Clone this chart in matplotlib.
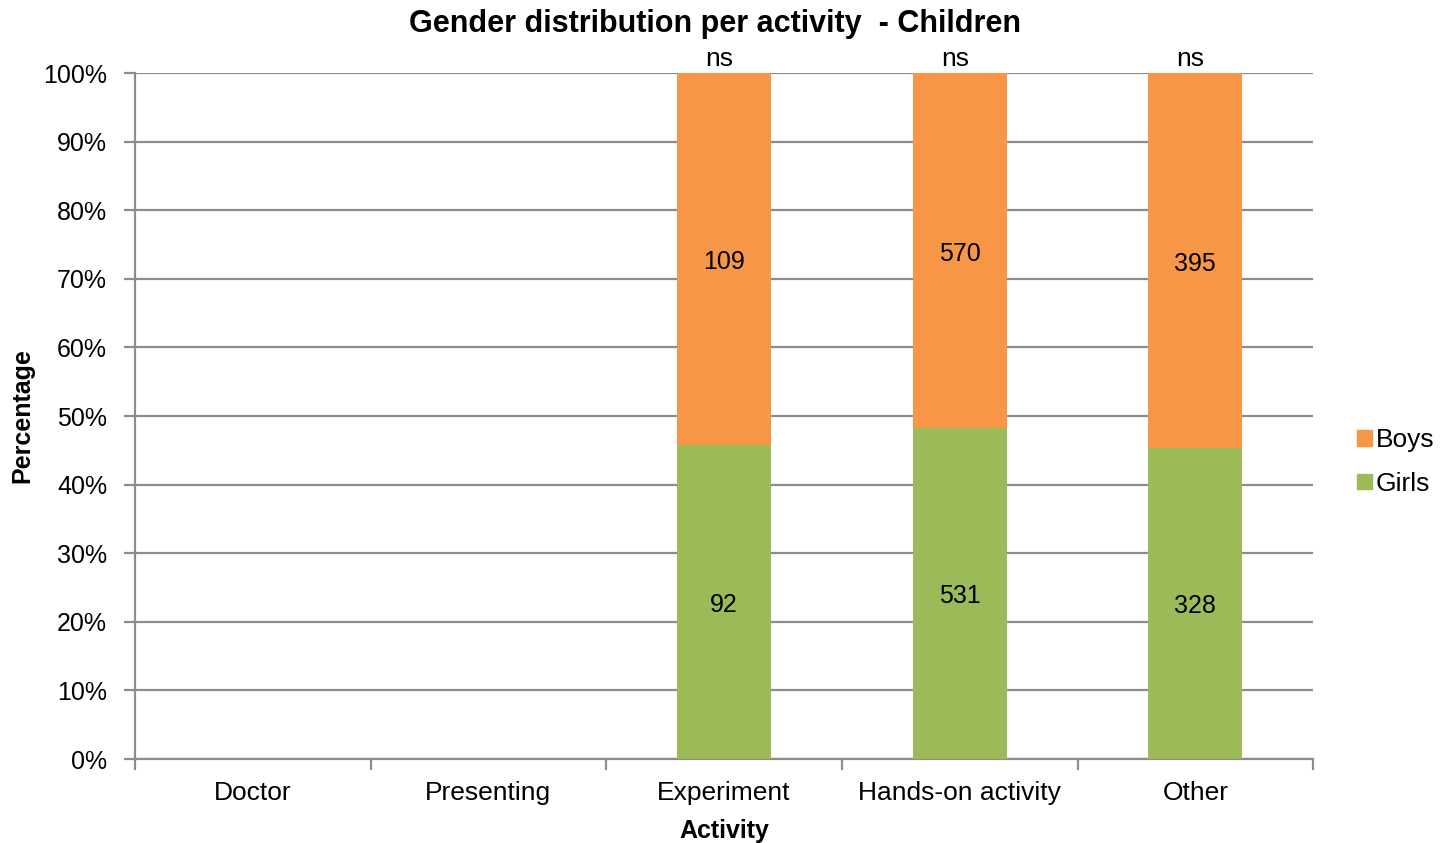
import numpy as np
import matplotlib.pyplot as plt
from matplotlib.patches import Patch
from matplotlib.ticker import FuncFormatter, FixedLocator

# data: counts per activity (children)
activities = ["Doctor", "Presenting", "Experiment", "Hands-on activity", "Other"]
girls = [0, 0, 92, 531, 328]
boys = [0, 0, 109, 570, 395]
signif = ["", "", "ns", "ns", "ns"]

girl_col = "#9BBB59"
boy_col = "#F79646"
grid_col = "#8C8C8C"

plt.rcParams["font.family"] = ["Liberation Sans", "DejaVu Sans"]

girls_arr = np.array(girls, dtype=float)
boys_arr = np.array(boys, dtype=float)
total = girls_arr + boys_arr
safe = np.where(total > 0, total, 1)
girls_pct = np.where(total > 0, girls_arr / safe * 100, 0)
boys_pct = np.where(total > 0, boys_arr / safe * 100, 0)

fig = plt.figure(figsize=(14.51, 8.43), dpi=100)
ax = fig.add_axes([0.093, 0.0996, 0.812, 0.8138])

x = np.arange(len(activities))
w = 0.4
ax.bar(x, girls_pct, width=w, color=girl_col, zorder=3)
ax.bar(x, boys_pct, width=w, bottom=girls_pct, color=boy_col, zorder=3)

for i in range(len(activities)):
    if total[i] == 0:
        continue
    ax.text(x[i], girls_pct[i] / 2 - 0.4, str(girls[i]), ha="center", va="center",
            fontsize=18, zorder=4)
    ax.text(x[i], girls_pct[i] + boys_pct[i] / 2 - 0.5, str(boys[i]), ha="center",
            va="center", fontsize=18, zorder=4)
    ax.text(x[i] - 0.02, 100.3, signif[i], ha="center", va="bottom", fontsize=19)

ax.set_xlim(-0.5, len(activities) - 0.5)
ax.set_ylim(0, 100)
ax.set_yticks(np.arange(0, 101, 10))
ax.yaxis.set_major_formatter(FuncFormatter(lambda v, p: f"{int(v)}%"))
ax.yaxis.grid(True, color=grid_col, linewidth=1.6, zorder=0)

# category labels centered, tick marks between categories
ax.set_xticks(x)
ax.set_xticklabels(activities, fontsize=19)
ax.tick_params(axis="x", length=0, pad=16)
ax.xaxis.set_minor_locator(FixedLocator(np.arange(-0.5, len(activities), 1)))
ax.tick_params(axis="x", which="minor", length=8, width=1.6, color=grid_col)
ax.tick_params(axis="y", length=8, width=1.6, color=grid_col, labelsize=18, pad=12)

for s in ["top", "right"]:
    ax.spines[s].set_visible(False)
for s in ["left", "bottom"]:
    ax.spines[s].set_color(grid_col)
    ax.spines[s].set_linewidth(1.6)

ax.set_xlabel("Activity", fontsize=18, fontweight="bold", labelpad=10)
ax.set_ylabel("Percentage", fontsize=18, fontweight="bold", labelpad=6)
fig.text(0.493, 0.972, "Gender distribution per activity  - Children",
         ha="center", va="center", fontsize=22, fontweight="bold")

handles = [Patch(color=boy_col, label="Boys"), Patch(color=girl_col, label="Girls")]
fig.legend(handles=handles, loc="center left", bbox_to_anchor=(0.919, 0.452),
           frameon=False, fontsize=19, handlelength=0.55, handleheight=0.55,
           handletextpad=0.15, labelspacing=0.75)

fig.savefig("out.png", dpi=100)
